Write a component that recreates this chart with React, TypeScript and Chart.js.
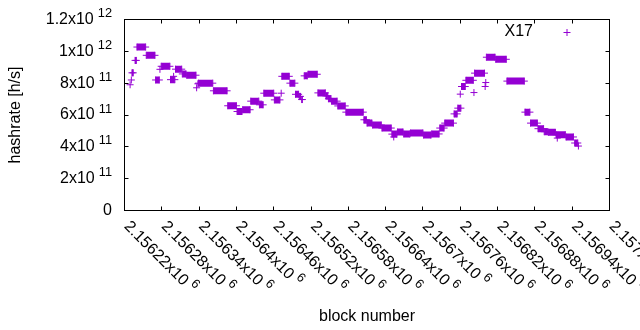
import React, { useEffect, useRef } from 'react';
import { Chart, registerables } from 'chart.js';

Chart.register(...registerables);

// Runs of equal hashrate over consecutive blocks (start block, end block, value in h/s)
const segStart = [
  2156229, 2156231, 2156232, 2156237, 2156240, 2156255, 2156270, 2156277, 2156279, 2156294,
  2156299, 2156302, 2156313, 2156320, 2156336, 2156338, 2156339, 2156363, 2156386, 2156401,
  2156410, 2156423, 2156437, 2156444, 2156461, 2156472, 2156473, 2156486, 2156495, 2156501,
  2156505, 2156509, 2156515, 2156531, 2156544, 2156548, 2156553, 2156563, 2156576, 2156605,
  2156610, 2156619, 2156634, 2156650, 2156653, 2156659, 2156669, 2156680, 2156701, 2156714,
  2156727, 2156735, 2156750, 2156756, 2156760, 2156762, 2156769, 2156782, 2156783, 2156800,
  2156801, 2156802, 2156817, 2156835, 2156864, 2156873, 2156885, 2156895, 2156902, 2156914,
  2156916, 2156930, 2156944, 2156950,
];
const segEnd = [
  2156229, 2156231, 2156234, 2156239, 2156254, 2156269, 2156276, 2156277, 2156293, 2156301,
  2156299, 2156312, 2156319, 2156335, 2156336, 2156338, 2156362, 2156385, 2156400, 2156409,
  2156422, 2156436, 2156443, 2156460, 2156470, 2156472, 2156485, 2156494, 2156500, 2156503,
  2156506, 2156514, 2156530, 2156543, 2156547, 2156552, 2156562, 2156575, 2156604, 2156609,
  2156618, 2156633, 2156649, 2156658, 2156653, 2156668, 2156679, 2156700, 2156713, 2156726,
  2156734, 2156749, 2156755, 2156761, 2156760, 2156768, 2156781, 2156782, 2156799, 2156800,
  2156801, 2156816, 2156834, 2156863, 2156872, 2156884, 2156894, 2156901, 2156913, 2156929,
  2156916, 2156942, 2156949, 2156950,
];
const segValue = [
  7.9e11, 8.2e11, 8.65e11, 9.43e11, 1.027e12, 9.75e11, 8.2e11, 8.87e11, 9.06e11, 8.22e11,
  8.43e11, 8.88e11, 8.58e11, 8.5e11, 7.71e11, 7.96e11, 8.0e11, 7.52e11, 6.58e11, 6.22e11,
  6.33e11, 6.87e11, 6.64e11, 7.37e11, 6.95e11, 7.37e11, 8.43e11, 8.0e11, 7.3e11, 7.17e11,
  6.97e11, 8.46e11, 8.56e11, 7.39e11, 7.2e11, 7.02e11, 6.87e11, 6.57e11, 6.18e11, 5.7e11,
  5.49e11, 5.37e11, 5.18e11, 4.8e11, 4.62e11, 4.93e11, 4.81e11, 4.87e11, 4.74e11, 4.81e11,
  5.18e11, 5.49e11, 6.07e11, 6.43e11, 7.31e11, 7.79e11, 8.18e11, 7.41e11, 8.63e11, 7.79e11,
  8.04e11, 9.63e11, 9.5e11, 8.13e11, 6.18e11, 5.49e11, 5.14e11, 4.95e11, 4.91e11, 4.76e11,
  4.55e11, 4.62e11, 4.24e11, 4.05e11,
];

const seriesName = 'X17';

const xTickValues = [
  2156220, 2156280, 2156340, 2156400, 2156460, 2156520, 2156580,
  2156640, 2156700, 2156760, 2156820, 2156880, 2156940, 2157000,
];
const xTickMantissa = [
  '2.15622', '2.15628', '2.15634', '2.1564', '2.15646', '2.15652', '2.15658',
  '2.15664', '2.1567', '2.15676', '2.15682', '2.15688', '2.15694', '2.157',
];
const xTickExp = '6';

const yTickValues = [0, 2e11, 4e11, 6e11, 8e11, 1e12, 1.2e12];
const yTickMantissa = ['0', '2', '4', '6', '8', '1', '1.2'];
const yTickExp = ['', '11', '11', '11', '11', '12', '12'];

const xTitle = 'block number';
const yTitle = 'hashrate [h/s]';

const COLOR = '#9400d3';
const FONT = "'Liberation Sans', Arial, sans-serif";

export default function App() {
  const ref = useRef<HTMLCanvasElement | null>(null);

  useEffect(() => {
    const canvas = ref.current;
    if (!canvas) return;

    const pts: { x: number; y: number | null }[] = [];
    for (let i = 0; i < segStart.length; i++) {
      if (i > 0) pts.push({ x: segStart[i], y: null });
      pts.push({ x: segStart[i], y: segValue[i] });
      if (segEnd[i] !== segStart[i]) pts.push({ x: segEnd[i], y: segValue[i] });
    }

    const framePlugin = {
      id: 'gnuframe',
      beforeDatasetsDraw(chart: any) {
        const ctx = chart.ctx;
        const { left, right, top, bottom } = chart.chartArea;
        const xs = chart.scales.x;
        const ys = chart.scales.y;
        ctx.save();
        ctx.strokeStyle = '#000';
        ctx.lineWidth = 1;
        ctx.strokeRect(left, top, right - left, bottom - top);
        ctx.beginPath();
        const T = 4;
        xTickValues.forEach((v) => {
          const px = Math.round(xs.getPixelForValue(v) - 0.5) + 0.5;
          ctx.moveTo(px, bottom);
          ctx.lineTo(px, bottom - T);
          ctx.moveTo(px, top);
          ctx.lineTo(px, top + T);
        });
        yTickValues.forEach((v) => {
          const py = Math.round(ys.getPixelForValue(v) - 0.5) + 0.5;
          ctx.moveTo(left, py);
          ctx.lineTo(left + T, py);
          ctx.moveTo(right, py);
          ctx.lineTo(right - T, py);
        });
        ctx.stroke();
        ctx.restore();
      },
      afterDraw(chart: any) {
        const ctx = chart.ctx;
        const { left, right, top, bottom } = chart.chartArea;
        const xs = chart.scales.x;
        const ys = chart.scales.y;
        ctx.save();
        ctx.fillStyle = '#000';
        // y tick labels
        yTickValues.forEach((v, i) => {
          const py = ys.getPixelForValue(v);
          const main = yTickExp[i] ? yTickMantissa[i] + 'x10' : yTickMantissa[i];
          ctx.font = `16px ${FONT}`;
          const mw = ctx.measureText(main).width;
          let sw = 0;
          if (yTickExp[i]) {
            ctx.font = `12.8px ${FONT}`;
            sw = ctx.measureText(yTickExp[i]).width + 4;
          }
          const rx = left - 12.5;
          ctx.textAlign = 'left';
          ctx.textBaseline = 'middle';
          ctx.font = `16px ${FONT}`;
          ctx.fillText(main, rx - sw - mw, py);
          if (yTickExp[i]) {
            ctx.font = `12.8px ${FONT}`;
            ctx.fillText(yTickExp[i], rx - sw + 4, py - 6);
          }
        });
        // x tick labels (rotated)
        xTickValues.forEach((v, i) => {
          const px = xs.getPixelForValue(v);
          ctx.save();
          ctx.translate(px + 2, bottom + 13.5);
          ctx.rotate(Math.PI / 4);
          ctx.textAlign = 'left';
          ctx.textBaseline = 'middle';
          ctx.font = `16px ${FONT}`;
          const main = xTickMantissa[i] + 'x10';
          ctx.fillText(main, 0, 0);
          const mw = ctx.measureText(main).width;
          ctx.font = `12.8px ${FONT}`;
          ctx.fillText(xTickExp, mw + 4, -6);
          ctx.restore();
        });
        // axis titles
        ctx.font = `16px ${FONT}`;
        ctx.textAlign = 'center';
        ctx.textBaseline = 'middle';
        ctx.fillText(xTitle, (left + right) / 2, 317);
        ctx.save();
        ctx.translate(16, (top + bottom) / 2);
        ctx.rotate(-Math.PI / 2);
        ctx.fillText(yTitle, 0, 0);
        ctx.restore();
        // key
        ctx.textAlign = 'right';
        ctx.fillText(seriesName, 533, 32);
        ctx.strokeStyle = COLOR;
        ctx.lineWidth = 1;
        ctx.beginPath();
        ctx.moveTo(563.5, 32.5);
        ctx.lineTo(570.5, 32.5);
        ctx.moveTo(567, 29);
        ctx.lineTo(567, 36);
        ctx.stroke();
        ctx.restore();
      },
    };

    const chart = new Chart(canvas, {
      type: 'scatter',
      data: {
        datasets: [
          {
            label: seriesName,
            data: pts as any,
            showLine: true,
            spanGaps: false,
            borderColor: COLOR,
            backgroundColor: COLOR,
            borderWidth: 7,
            borderCapStyle: 'butt',
            pointStyle: 'cross',
            pointRadius: 3.5,
            pointHoverRadius: 3.5,
            pointBorderWidth: 1,
            pointBorderColor: COLOR,
            pointBackgroundColor: COLOR,
          },
        ],
      },
      options: {
        animation: false,
        responsive: false,
        devicePixelRatio: 1,
        events: [],
        layout: { padding: { left: 124.5, right: 30.5, top: 19.5, bottom: 119.5 } },
        plugins: { legend: { display: false }, tooltip: { enabled: false } },
        scales: {
          x: { type: 'linear', min: 2156220, max: 2157000, display: false },
          y: { type: 'linear', min: 0, max: 1.2e12, display: false },
        },
      },
      plugins: [framePlugin],
    });
    return () => chart.destroy();
  }, []);

  return (
    <canvas
      ref={ref}
      width={640}
      height={330}
      style={{ position: 'absolute', left: 0, top: 0, width: 640, height: 330, background: '#fff' }}
    />
  );
}
